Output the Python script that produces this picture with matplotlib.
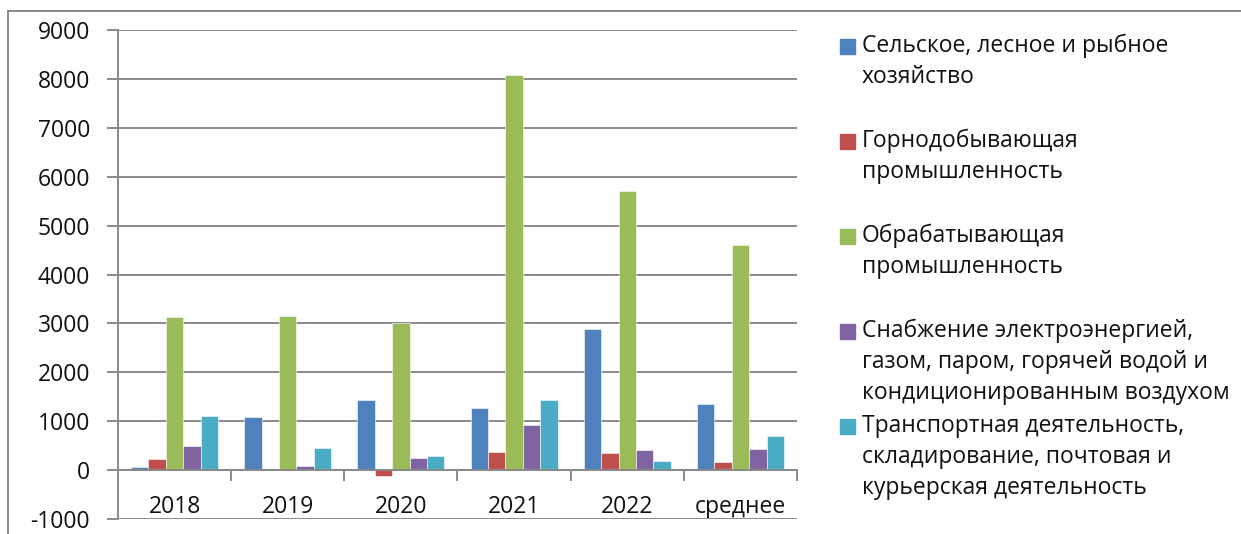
import numpy as np
import matplotlib
matplotlib.use("Agg")
import matplotlib.pyplot as plt
from matplotlib.patches import Rectangle
from matplotlib.lines import Line2D

plt.rcParams['font.family'] = ['Open Sans', 'DejaVu Sans']
plt.rcParams['axes.unicode_minus'] = False

categories = ["2018", "2019", "2020", "2021", "2022", "среднее"]
agriculture = [55, 1090, 1440, 1260, 2880, 1350]
mining = [220, 0, -130, 375, 345, 165]
manufacturing = [3130, 3150, 3005, 8080, 5705, 4600]
energy = [490, 90, 240, 915, 415, 430]
transport = [1105, 450, 280, 1440, 190, 690]

labels = [
    "Сельское, лесное и рыбное\nхозяйство",
    "Горнодобывающая\nпромышленность",
    "Обрабатывающая\nпромышленность",
    "Снабжение электроэнергией,\nгазом, паром, горячей водой и\nкондиционированным воздухом",
    "Транспортная деятельность,\nскладирование, почтовая и\nкурьерская деятельность",
]
colors = ["#4F81BD", "#C0504D", "#9BBB59", "#8064A2", "#4BACC6"]
series = [agriculture, mining, manufacturing, energy, transport]

W, H = 1241, 534
FS = 16.5
fig = plt.figure(figsize=(W / 100, H / 100), dpi=100)
ax = fig.add_axes([118 / W, 15 / H, (797 - 118) / W, (519 - 30) / H])

grid_color = "#8a8a8a"
x = np.arange(len(categories))
bw = 1 / 6.5
for i, (vals, c) in enumerate(zip(series, colors)):
    ax.bar(x + (i - 2) * bw, vals, width=bw, color=c, edgecolor="white",
           linewidth=0.4, zorder=3)

ax.set_xlim(-0.5, len(categories) - 0.5)
ax.set_ylim(-1000, 9000)
ax.set_yticks(np.arange(-1000, 9001, 1000))
ax.yaxis.grid(True, color=grid_color, linewidth=1.4, zorder=0)
ax.tick_params(axis='y', length=8, width=1.4, color=grid_color, labelsize=FS,
               pad=12, labelcolor="#111111")

for s in ["top", "right"]:
    ax.spines[s].set_visible(False)
ax.spines["left"].set_color(grid_color)
ax.spines["left"].set_linewidth(1.4)
ax.spines["bottom"].set_position(("data", 0))
ax.spines["bottom"].set_color(grid_color)
ax.spines["bottom"].set_linewidth(1.4)
ax.spines["bottom"].set_zorder(4)

ax.set_xticks(np.arange(-0.5, len(categories), 1.0))
ax.set_xticklabels([])
ax.set_xticks(x, minor=True)
ax.set_xticklabels(categories, minor=True)
ax.tick_params(axis='x', which='major', length=8, width=1.4, color=grid_color,
               direction='out')
ax.tick_params(axis='x', which='minor', length=0, labelsize=FS, pad=18,
               labelcolor="#111111")

# legend drawn by hand, Excel style
for i, (lab, c) in enumerate(zip(labels, colors)):
    y0 = 46 + i * 95
    fig.add_artist(Rectangle((840 / W, 1 - (y0 + 7.5) / H), 15 / W, 15 / H,
                             transform=fig.transFigure, color=c))
    for k, line in enumerate(lab.split("\n")):
        fig.text(862 / W, 1 - (y0 + k * 31) / H, line, fontsize=FS,
                 va="center", ha="left", color="#111111")

# outer chart frame (partly cropped)
fig.add_artist(Line2D([8 / W, 8 / W], [0, 1 - 11 / H], color=grid_color,
                      linewidth=1.4, transform=fig.transFigure))
fig.add_artist(Line2D([8 / W, 1], [1 - 11 / H, 1 - 11 / H], color=grid_color,
                      linewidth=1.4, transform=fig.transFigure))

fig.savefig("out.png", dpi=100)
